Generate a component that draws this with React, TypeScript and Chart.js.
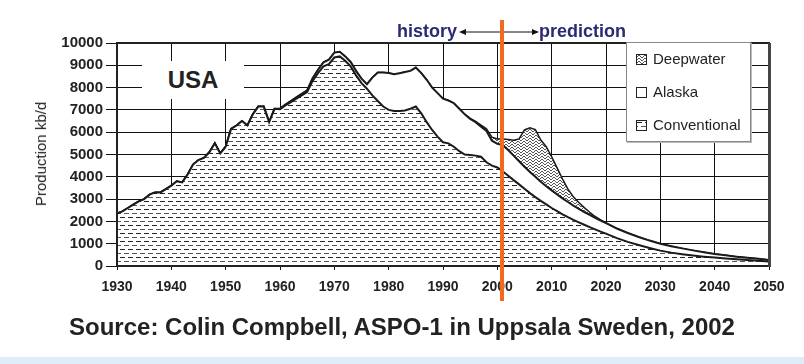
import React, { useEffect, useRef, useMemo } from 'react';
import { Chart, registerables } from 'chart.js';
Chart.register(...registerables);

const years = [
  1930, 1931, 1932, 1933, 1934, 1935, 1936, 1937, 1938, 1939,
  1940, 1941, 1942, 1943, 1944, 1945, 1946, 1947, 1948, 1949,
  1950, 1951, 1952, 1953, 1954, 1955, 1956, 1957, 1958, 1959,
  1960, 1961, 1962, 1963, 1964, 1965, 1966, 1967, 1968, 1969,
  1970, 1971, 1972, 1973, 1974, 1975, 1976, 1977, 1978, 1979,
  1980, 1981, 1982, 1983, 1984, 1985, 1986, 1987, 1988, 1989,
  1990, 1991, 1992, 1993, 1994, 1995, 1996, 1997, 1998, 1999,
  2000, 2001, 2002, 2003, 2004, 2005, 2006, 2007, 2008, 2009,
  2010, 2011, 2012, 2013, 2014, 2015, 2016, 2017, 2018, 2019,
  2020,
  2022, 2024, 2026, 2028, 2030, 2032, 2034, 2036, 2038, 2040, 2042, 2044, 2046, 2048, 2050,
];

const conventional = [
  2350, 2450, 2600, 2750, 2900, 3000, 3200, 3300, 3300, 3450,
  3600, 3800, 3750, 4100, 4550, 4750, 4850, 5100, 5500, 5050,
  5350, 6150, 6300, 6500, 6300, 6800, 7150, 7150, 6450, 7050,
  7030, 7200, 7350, 7500, 7650, 7800, 8300, 8650, 8950, 9050,
  9350, 9400, 9200, 8950, 8550, 8200, 7950, 7650, 7400, 7150,
  7000, 6950, 6950, 6970, 7050, 7150, 6850, 6450, 6100, 5800,
  5550, 5500, 5350, 5150, 5000, 4980, 4950, 4900, 4650, 4500,
  4420, 4250, 4050, 3850, 3660, 3460, 3270, 3090, 2920, 2760,
  2600, 2460, 2320, 2190, 2070, 1960, 1850, 1740, 1640, 1540,
  1450,
  1250, 1080, 940, 810, 690, 600, 530, 470, 420, 380, 340, 300, 270, 235, 200,
];

const alaska = [
  0, 0, 0, 0, 0, 0, 0, 0, 0, 0,
  0, 0, 0, 0, 0, 0, 0, 0, 0, 0,
  0, 0, 0, 0, 0, 0, 0, 0, 0, 0,
  30, 40, 50, 60, 70, 80, 120, 150, 180, 200,
  220, 210, 200, 200, 200, 200, 200, 800, 1280, 1530,
  1650, 1650, 1690, 1730, 1700, 1750, 1800, 1900, 1900, 1950,
  1950, 1920, 1950, 1900, 1800, 1620, 1500, 1350, 1400, 1120,
  1060, 1170, 1150, 1100, 1040, 990, 950, 910, 860, 820,
  790, 750, 710, 680, 640, 600, 570, 550, 520, 500,
  470,
  430, 400, 360, 330, 310, 290, 260, 230, 200, 160, 140, 120, 100, 85, 70,
];

const deepwater = [
  0, 0, 0, 0, 0, 0, 0, 0, 0, 0,
  0, 0, 0, 0, 0, 0, 0, 0, 0, 0,
  0, 0, 0, 0, 0, 0, 0, 0, 0, 0,
  0, 0, 0, 0, 0, 0, 0, 0, 0, 0,
  0, 0, 0, 0, 0, 0, 0, 0, 0, 0,
  0, 0, 0, 0, 0, 0, 0, 0, 0, 0,
  0, 0, 0, 0, 0, 20, 40, 70, 100, 160,
  220, 280, 470, 690, 1000, 1650, 1980, 2120, 1870, 1770,
  1510, 1190, 870, 580, 390, 290, 200, 120, 60, 30,
  15,
  0, 0, 0, 0, 0, 0, 0, 0, 0, 0, 0, 0, 0, 0, 0,
];

const seriesNames = ['Conventional', 'Alaska', 'Deepwater'];
const legendOrder = ['Deepwater', 'Alaska', 'Conventional'];
const yMin = 0;
const yMax = 10000;
const yStep = 1000;
const xMin = 1930;
const xMax = 2050;
const xStep = 10;

const FONT = 'Arial, "Liberation Sans", Helvetica, sans-serif';

function convTile(): HTMLCanvasElement {
  const c = document.createElement('canvas');
  c.width = 8; c.height = 8;
  const g = c.getContext('2d')!;
  g.fillStyle = '#fff'; g.fillRect(0, 0, 8, 8);
  g.fillStyle = '#222'; g.fillRect(0, 1, 5, 1);
  g.fillStyle = '#555'; g.fillRect(4, 5, 4, 1); g.fillRect(0, 5, 1, 1);
  return c;
}

function deepTile(): HTMLCanvasElement {
  const c = document.createElement('canvas');
  c.width = 6; c.height = 3;
  const g = c.getContext('2d')!;
  g.fillStyle = '#fff'; g.fillRect(0, 0, 6, 3);
  g.fillStyle = '#555';
  const px = [[0, 1], [1, 0], [2, 0], [3, 1], [4, 2], [5, 2]];
  px.forEach(([x, y]) => g.fillRect(x, y, 1, 1));
  return c;
}

export default function App() {
  const ref = useRef<HTMLCanvasElement | null>(null);

  const icons = useMemo(() => {
    if (typeof document === 'undefined') return { conv: '', deep: '' };
    return { conv: convTile().toDataURL(), deep: deepTile().toDataURL() };
  }, []);

  useEffect(() => {
    const canvas = ref.current;
    if (!canvas) return;
    const ctx = canvas.getContext('2d')!;
    const convPat = ctx.createPattern(convTile(), 'repeat')!;
    const deepPat = ctx.createPattern(deepTile(), 'repeat')!;
    const toPts = (arr: number[]) => arr.map((v, i) => ({ x: years[i], y: v }));

    const frame = {
      id: 'frame',
      afterDatasetsDraw(chart: any) {
        const { left, top, right, bottom } = chart.chartArea;
        const c = chart.ctx;
        c.save();
        c.strokeStyle = '#222';
        c.lineWidth = 2;
        c.strokeRect(left, top, right - left, bottom - top);
        c.strokeStyle = '#444';
        c.lineWidth = 3;
        c.beginPath();
        c.moveTo(right + 0.5, top);
        c.lineTo(right + 0.5, bottom + 1);
        c.stroke();
        c.restore();
      },
    };

    const chart = new Chart(canvas, {
      type: 'line',
      data: {
        datasets: [
          {
            label: seriesNames[0],
            data: toPts(conventional),
            borderColor: '#1a1a1a',
            borderWidth: 2,
            backgroundColor: convPat as any,
            fill: 'origin',
            pointRadius: 0,
            tension: 0,
          },
          {
            label: seriesNames[1],
            data: toPts(alaska),
            borderColor: '#1a1a1a',
            borderWidth: 2,
            backgroundColor: '#ffffff',
            fill: '-1',
            pointRadius: 0,
            tension: 0,
          },
          {
            label: seriesNames[2],
            data: toPts(deepwater),
            borderColor: '#1a1a1a',
            borderWidth: 1.5,
            backgroundColor: deepPat as any,
            fill: '-1',
            pointRadius: 0,
            tension: 0,
          },
        ],
      },
      options: {
        responsive: false,
        animation: false,
        layout: { padding: { left: 0, right: 35, top: 43, bottom: 68 } },
        plugins: { legend: { display: false }, tooltip: { enabled: false } },
        scales: {
          x: {
            type: 'linear',
            min: xMin,
            max: xMax,
            ticks: {
              stepSize: xStep,
              callback: (v: any) => String(v),
              font: { family: FONT, size: 14, weight: 'bold' },
              color: '#222',
              padding: 9,
              maxRotation: 0,
              autoSkip: false,
            },
            grid: { color: '#111', lineWidth: 1, tickLength: 4, drawTicks: true },
            border: { display: false },
            afterFit: (s: any) => { s.height = 30; },
          },
          y: {
            stacked: true,
            min: yMin,
            max: yMax,
            ticks: {
              stepSize: yStep,
              callback: (v: any) => String(v),
              font: { family: FONT, size: 15, weight: 'bold' },
              color: '#222',
              padding: 3,
            },
            grid: { color: '#111', lineWidth: 1, tickLength: 11, drawTicks: true },
            border: { display: false },
            afterFit: (s: any) => { s.width = 117; },
          },
        },
      },
      plugins: [frame],
    } as any);
    return () => chart.destroy();
  }, []);

  const navy = '#2b2a72';
  const iconBase: React.CSSProperties = {
    position: 'absolute', left: 9, width: 9, height: 9, border: '1px solid #222', background: '#fff',
  };
  const itemText: React.CSSProperties = {
    position: 'absolute', left: 26, fontSize: 15, fontFamily: FONT, color: '#222', lineHeight: '18px', whiteSpace: 'nowrap',
  };
  const legendY = [16, 49, 82];

  return (
    <div style={{ position: 'fixed', left: 0, top: 0, width: 804, height: 364, background: '#fff', overflow: 'hidden', fontFamily: FONT }}>
      <canvas ref={ref} width={804} height={364} style={{ position: 'absolute', left: 0, top: 0, width: 804, height: 364 }} />
      <div style={{ position: 'absolute', left: 41, top: 154, transform: 'translate(-50%, -50%) rotate(-90deg)', fontSize: 15, color: '#222', whiteSpace: 'nowrap', lineHeight: '16px' }}>
        Production kb/d
      </div>
      <div style={{ position: 'absolute', left: 142, top: 61, width: 102, height: 38, background: '#fff', display: 'flex', alignItems: 'center', justifyContent: 'center', fontSize: 24, fontWeight: 'bold', color: '#222' }}>
        USA
      </div>
      <div style={{ position: 'absolute', left: 397, top: 21, fontSize: 18, fontWeight: 'bold', color: navy, lineHeight: '20px' }}>history</div>
      <div style={{ position: 'absolute', left: 539, top: 21, fontSize: 18, fontWeight: 'bold', color: navy, lineHeight: '20px' }}>prediction</div>
      <svg style={{ position: 'absolute', left: 0, top: 0 }} width={804} height={364}>
        <line x1={462} y1={32} x2={536} y2={32} stroke="#111" strokeWidth={1} />
        <polygon points="459,32 466,29 466,35" fill="#111" />
        <polygon points="539,32 532,29 532,35" fill="#111" />
      </svg>
      <div style={{ position: 'absolute', left: 500, top: 20, width: 4, height: 281, background: '#f26a21' }} />
      <div style={{ position: 'absolute', left: 626, top: 42, width: 123, height: 98, background: '#fff', border: '1px solid #888', boxShadow: '1px 1px 0 #bbb' }}>
        {legendOrder.map((name, i) => {
          const bg = name === 'Deepwater' ? `url(${icons.deep})` : name === 'Conventional' ? `url(${icons.conv})` : 'none';
          return (
            <React.Fragment key={name}>
              <div style={{ ...iconBase, top: legendY[i] - 5, backgroundImage: bg }} />
              <div style={{ ...itemText, top: legendY[i] - 9 }}>{name}</div>
            </React.Fragment>
          );
        })}
      </div>
      <div style={{ position: 'absolute', left: 0, width: 804, top: 313, textAlign: 'center', fontSize: 24, fontWeight: 'bold', color: '#222', lineHeight: '28px', whiteSpace: 'nowrap' }}>
        Source: Colin Compbell, ASPO-1 in Uppsala Sweden, 2002
      </div>
      <div style={{ position: 'absolute', left: 0, top: 357, width: 804, height: 7, background: '#deedf9' }} />
    </div>
  );
}
